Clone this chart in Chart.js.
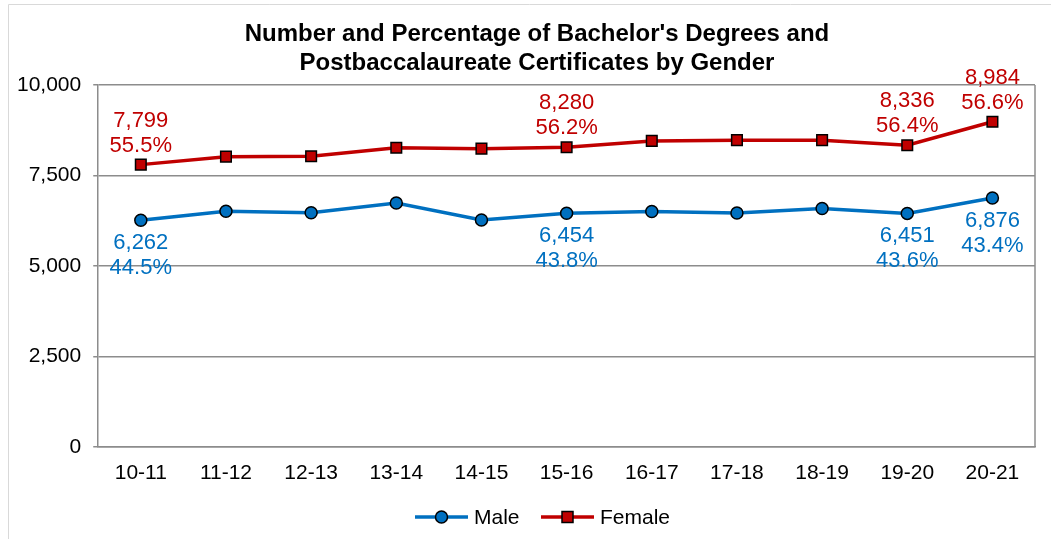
<!DOCTYPE html>
<html>
<head>
<meta charset="utf-8">
<script src="https://cdn.jsdelivr.net/npm/chart.js@4.4.1/dist/chart.umd.min.js"></script>
<style>
    html, body { margin: 0; padding: 0; background: #fff; }
    .wrap { position: relative; width: 1051px; height: 539px; }
</style>
</head>
<body>
<div class="wrap"><canvas id="chart" width="1051" height="539"></canvas></div>
<script>
const categories = ['10-11', '11-12', '12-13', '13-14', '14-15', '15-16', '16-17', '17-18', '18-19', '19-20', '20-21'];
const maleValues = [6262, 6510, 6470, 6740, 6268, 6454, 6505, 6460, 6585, 6451, 6876];
const femaleValues = [7799, 8020, 8030, 8265, 8240, 8280, 8455, 8475, 8475, 8336, 8984];
const malePercent = [44.5, null, null, null, null, 43.8, null, null, null, 43.6, 43.4];
const femalePercent = [55.5, null, null, null, null, 56.2, null, null, null, 56.4, 56.6];
const yTicks = [0, 2500, 5000, 7500, 10000];
const titleLines = ["Number and Percentage of Bachelor's Degrees and", 'Postbaccalaureate Certificates by Gender'];

const maleColor = '#0070C0';
const femaleColor = '#C00000';
const gridColor = '#8c8c8c';
const font = '"Liberation Sans", Arial, sans-serif';

// value labels (number + share) above / below selected points
const pointLabels = {
    id: 'pointLabels',
    afterDatasetsDraw(chart) {
        const ctx = chart.ctx;
        ctx.save();
        ctx.font = '22px ' + font;
        ctx.textAlign = 'center';
        ctx.textBaseline = 'middle';
        const sets = [
            { meta: chart.getDatasetMeta(0), values: maleValues, pct: malePercent, color: maleColor, dy: [23, 48] },
            { meta: chart.getDatasetMeta(1), values: femaleValues, pct: femalePercent, color: femaleColor, dy: [-44, -19] }
        ];
        sets.forEach(s => {
            ctx.fillStyle = s.color;
            s.pct.forEach((p, i) => {
                if (p === null) return;
                const pt = s.meta.data[i];
                ctx.fillText(s.values[i].toLocaleString('en-US'), pt.x, pt.y + s.dy[0]);
                ctx.fillText(p.toFixed(1) + '%', pt.x, pt.y + s.dy[1]);
            });
        });
        ctx.restore();
    }
};

// title, plot frame, outer border and line+marker legend
const frame = {
    id: 'frame',
    beforeDatasetsDraw(chart) {
        const { ctx, chartArea: a } = chart;
        ctx.save();
        ctx.strokeStyle = gridColor;
        ctx.lineWidth = 1.5;
        ctx.beginPath();
        ctx.moveTo(a.right, a.top);
        ctx.lineTo(a.right, a.bottom);
        ctx.stroke();
        ctx.restore();
    },
    afterDraw(chart) {
        const ctx = chart.ctx;
        ctx.save();
        ctx.strokeStyle = '#d9d9d9';
        ctx.lineWidth = 1;
        ctx.beginPath();
        ctx.moveTo(8.5, 539);
        ctx.lineTo(8.5, 4.5);
        ctx.lineTo(1051, 4.5);
        ctx.stroke();

        ctx.fillStyle = '#000';
        ctx.font = 'bold 24px ' + font;
        ctx.textAlign = 'center';
        ctx.textBaseline = 'middle';
        titleLines.forEach((t, i) => ctx.fillText(t, 537, 34 + i * 29));

        const y = 517;
        const items = [
            { label: 'Male', color: maleColor, x: 415, style: 'circle' },
            { label: 'Female', color: femaleColor, x: 541, style: 'rect' }
        ];
        items.forEach(it => {
            ctx.strokeStyle = it.color;
            ctx.lineWidth = 3.5;
            ctx.beginPath();
            ctx.moveTo(it.x, y);
            ctx.lineTo(it.x + 53, y);
            ctx.stroke();
            ctx.fillStyle = it.color;
            ctx.strokeStyle = '#000';
            ctx.lineWidth = 1.5;
            ctx.beginPath();
            if (it.style === 'circle') ctx.arc(it.x + 26.5, y, 6, 0, Math.PI * 2);
            else ctx.rect(it.x + 21, y - 5.5, 11, 11);
            ctx.fill();
            ctx.stroke();
            ctx.fillStyle = '#000';
            ctx.font = '21px ' + font;
            ctx.textAlign = 'left';
            ctx.textBaseline = 'middle';
            ctx.fillText(it.label, it.x + 59, y + 1);
        });
        ctx.restore();
    }
};

new Chart(document.getElementById('chart'), {
    type: 'line',
    data: {
        labels: categories,
        datasets: [{
            label: 'Male',
            data: maleValues,
            borderColor: maleColor,
            backgroundColor: maleColor,
            borderWidth: 3.5,
            pointStyle: 'circle',
            pointRadius: 6,
            pointBorderColor: '#000',
            pointBorderWidth: 1.5,
            tension: 0
        }, {
            label: 'Female',
            data: femaleValues,
            borderColor: femaleColor,
            backgroundColor: femaleColor,
            borderWidth: 3.5,
            pointStyle: 'rect',
            pointRadius: 7.5,
            pointBorderColor: '#000',
            pointBorderWidth: 1.5,
            tension: 0
        }]
    },
    options: {
        responsive: false,
        animation: false,
        layout: { padding: { left: 5, right: 16, top: 85, bottom: 39 } },
        plugins: {
            legend: { display: false },
            tooltip: { enabled: false },
            title: { display: false }
        },
        scales: {
            x: {
                offset: true,
                grid: { display: false, drawTicks: false },
                border: { color: gridColor, width: 1.5 },
                ticks: { color: '#000', font: { family: font, size: 21 }, padding: 14, maxRotation: 0 }
            },
            y: {
                min: 0,
                max: 10000,
                afterBuildTicks: axis => { axis.ticks = yTicks.map(v => ({ value: v })); },
                grid: { color: gridColor, lineWidth: 1.5, tickLength: 5, tickColor: gridColor },
                border: { color: gridColor, width: 1.5 },
                ticks: {
                    color: '#000',
                    font: { family: font, size: 21 },
                    padding: 12,
                    callback: v => v.toLocaleString('en-US')
                }
            }
        }
    },
    plugins: [pointLabels, frame]
});
</script>
</body>
</html>
